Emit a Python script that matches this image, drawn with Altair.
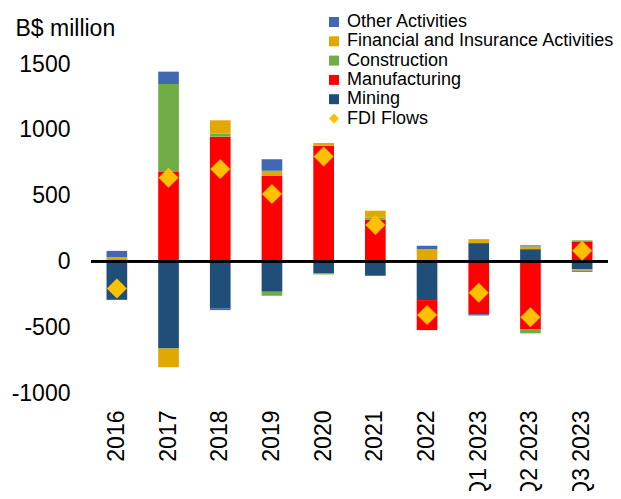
import altair as alt
import pandas as pd

categories = ["2016", "2017", "2018", "2019", "2020", "2021", "2022", "Q1 2023", "Q2 2023", "Q3 2023"]
mining = [-292, -662, -355, -231, -89, -109, -294, 139, 93, -61]
manufacturing = [15, 679, 948, 648, 879, 316, -228, -401, -517, 152]
construction = [0, 669, 22, -30, -10, 16, 10, 0, -30, 8]
financial = [18, -142, 102, 41, 21, 53, 84, 30, 21, -10]
other = [47, 94, -15, 87, 0, 0, 25, -10, 8, -8]
fdi_flows = [-205, 636, 702, 512, 798, 276, -408, -239, -424, 81]

series_names = ["Other Activities", "Financial and Insurance Activities", "Construction",
                "Manufacturing", "Mining", "FDI Flows"]
series_colors = ["#4169B2", "#E0A800", "#70AD47", "#FF0000", "#1F4E79", "#FFC000"]
series_shapes = ["square", "square", "square", "square", "square", "diamond"]
y_ticks = [-1000, -500, 0, 500, 1000, 1500]

stack_series = [("Mining", mining), ("Manufacturing", manufacturing), ("Construction", construction),
                ("Financial and Insurance Activities", financial), ("Other Activities", other)]

rows = []
for order, (name, vals) in enumerate(stack_series):
    for c, v in zip(categories, vals):
        rows.append({"category": c, "series": name, "value": v, "order": order})
bars_df = pd.DataFrame(rows)
fdi_df = pd.DataFrame({"category": categories, "value": fdi_flows, "series": ["FDI Flows"] * len(categories)})

FONT = "Liberation Sans"

x_enc = alt.X("category:N", sort=categories,
              scale=alt.Scale(paddingInner=0.6, paddingOuter=0.3),
              axis=alt.Axis(title=None, labelAngle=-90, labelFontSize=23, labelFont=FONT,
                            labelColor="black", domain=False, ticks=False, grid=False, labelPadding=17))
y_scale = alt.Scale(domain=[-1000, 1500], nice=False)
color_scale = alt.Scale(domain=series_names, range=series_colors)
shape_scale = alt.Scale(domain=series_names, range=series_shapes)

legend = alt.Legend(title=None, orient="none", legendX=234, legendY=-51, labelFont=FONT,
                    labelFontSize=18, labelColor="black", symbolSize=100, labelOffset=4,
                    rowPadding=1.3, padding=0, symbolStrokeWidth=0, labelLimit=0)

bars = alt.Chart(bars_df).mark_bar().encode(
    x=x_enc,
    y=alt.Y("value:Q", stack="zero", scale=y_scale,
            axis=alt.Axis(values=y_ticks, labelExpr="'' + datum.value", title="B$ million",
                          titleAngle=0, titleX=-76, titleY=-29,
                          titleAlign="left", titleBaseline="alphabetic", titleFont=FONT,
                          titleFontSize=23, titleFontWeight="normal", titleColor="black",
                          labelFont=FONT, labelFontSize=23, labelColor="black", labelPadding=21,
                          domain=False, ticks=False, grid=False)),
    color=alt.Color("series:N", scale=color_scale, legend=legend),
    shape=alt.Shape("series:N", scale=shape_scale, legend=legend),
    order=alt.Order("order:Q", sort="ascending"),
)

zero = alt.Chart(fdi_df).mark_rule(color="black", strokeWidth=1.6).encode(y=alt.datum(0))

points = alt.Chart(fdi_df).mark_point(filled=True, size=400, opacity=1).encode(
    x=alt.X("category:N", sort=categories),
    y=alt.Y("value:Q", scale=y_scale),
    color=alt.Color("series:N", scale=color_scale, legend=legend),
    shape=alt.Shape("series:N", scale=shape_scale, legend=legend),
)

chart = alt.layer(bars, zero, points).properties(
    width=517, height=329,
    autosize=alt.AutoSizeParams(type="none"),
    padding={"left": 83, "top": 56, "right": 5, "bottom": 98},
).configure(background="white").configure_view(stroke=None).configure_axis(grid=False, domain=False)

chart.save("out.html", embed_options={"renderer": "svg", "actions": False})
